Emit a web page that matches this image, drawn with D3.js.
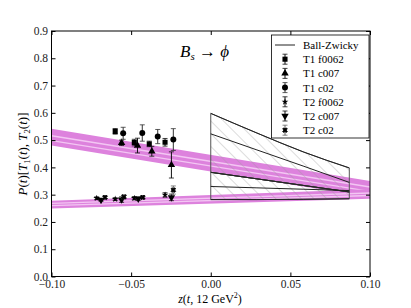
<!DOCTYPE html>
<html>
<head>
<meta charset="utf-8">
<script src="https://cdn.jsdelivr.net/npm/d3@7"></script>
<style>
  body { margin: 0; background: #fff; }
  svg { display: block; font-family: "Liberation Serif", "DejaVu Serif", serif; }
</style>
</head>
<body>
<div id="chart"></div>
<script>
// series of lattice points: [z, value, error]
const t1f0062 = [[-0.060, 0.532, 0.010], [-0.048, 0.491, 0.012], [-0.0386, 0.486, 0.010], [-0.0287, 0.492, 0.014]];
const t1c007  = [[-0.056, 0.490, 0.010], [-0.046, 0.480, 0.027], [-0.037, 0.459, 0.018], [-0.0247, 0.409, 0.048]];
const t1c02   = [[-0.055, 0.525, 0.022], [-0.043, 0.526, 0.030], [-0.0333, 0.513, 0.026], [-0.0235, 0.502, 0.040]];
const t2f0062 = [[-0.0716, 0.287, 0.005], [-0.060, 0.284, 0.005], [-0.048, 0.287, 0.006], [-0.0287, 0.299, 0.008]];
const t2c007  = [[-0.0689, 0.281, 0.005], [-0.056, 0.282, 0.010], [-0.0455, 0.285, 0.006], [-0.0247, 0.290, 0.012]];
const t2c02   = [[-0.0664, 0.290, 0.005], [-0.0545, 0.292, 0.007], [-0.0427, 0.290, 0.006], [-0.0235, 0.317, 0.015]];

const seriesNames = ["T1 f0062", "T1 c007", "T1 c02", "T2 f0062", "T2 c007", "T2 c02"];

// fit bands (linear in z), values at z = -0.10 and z = 0.10
const bandZ = [-0.10, 0.10];
const t1BandLo = [0.480, 0.290];
const t1BandHi = [0.542, 0.350];
const t1BandMid = [[0.498, 0.312], [0.516, 0.328]];
const t2BandLo = [0.249, 0.285];
const t2BandHi = [0.278, 0.320];
const t2BandMid = [[0.260, 0.297], [0.268, 0.306]];

// Ball-Zwicky curves
const bzZ = [0, 0.029, 0.058, 0.087];
const bzT1Hi = [0.598, 0.526, 0.457, 0.398];
const bzT1Mid = [0.523, 0.464, 0.405, 0.345];
const bzT1Lo = [0.382, 0.358, 0.334, 0.310];
const bzT2Hi = [0.382, 0.358, 0.334, 0.310];
const bzT2Mid = [0.330, 0.325, 0.320, 0.315];
const bzT2Lo = [0.282, 0.282, 0.283, 0.285];

const xTicks = [-0.10, -0.05, 0.00, 0.05, 0.10];
const yTicks = [0.0, 0.1, 0.2, 0.3, 0.4, 0.5, 0.6, 0.7, 0.8, 0.9];

const width = 411, height = 308;
const mLeft = 51.5, mRight = 370, mTop = 31, mBottom = 276.5;

const x = d3.scaleLinear([-0.10, 0.10], [mLeft, mRight]);
const y = d3.scaleLinear([0, 0.9], [mBottom, mTop]);

const svg = d3.select("#chart").append("svg")
    .attr("width", width)
    .attr("height", height);

const defs = svg.append("defs");
defs.append("clipPath").attr("id", "clip")
  .append("rect").attr("x", mLeft).attr("y", mTop).attr("width", mRight - mLeft).attr("height", mBottom - mTop);
defs.append("pattern")
    .attr("id", "hatch")
    .attr("patternUnits", "userSpaceOnUse")
    .attr("width", 9).attr("height", 9)
    .attr("patternTransform", "rotate(-45)")
  .append("line")
    .attr("x1", 0).attr("y1", 0).attr("x2", 0).attr("y2", 9)
    .attr("stroke", "#999").attr("stroke-width", 0.7);

const plot = svg.append("g").attr("clip-path", "url(#clip)");

// magenta fit bands
function band(lo, hi, mids) {
  const pts = bandZ.map((z, i) => ({z, lo: lo[i], hi: hi[i]}));
  plot.append("path")
      .attr("d", d3.area().x(d => x(d.z)).y0(d => y(d.lo)).y1(d => y(d.hi))(pts))
      .attr("fill", "#dd82dd");
  mids.forEach(m => {
    plot.append("path")
        .attr("d", d3.line().x(d => x(d[0])).y(d => y(d[1]))(bandZ.map((z, i) => [z, m[i]])))
        .attr("fill", "none")
        .attr("stroke", "#f3c6f3")
        .attr("stroke-width", 1.4);
  });
}
band(t1BandLo, t1BandHi, t1BandMid);
band(t2BandLo, t2BandHi, t2BandMid);

// Ball-Zwicky hatched regions
const bzLine = d3.line().x(d => x(d[0])).y(d => y(d[1])).curve(d3.curveMonotoneX);
function bzRegion(hi, mid, lo) {
  const pts = bzZ.map((z, i) => ({z, lo: lo[i], hi: hi[i]}));
  plot.append("path")
      .attr("d", d3.area().x(d => x(d.z)).y0(d => y(d.lo)).y1(d => y(d.hi)).curve(d3.curveMonotoneX)(pts))
      .attr("fill", "url(#hatch)")
      .attr("stroke", "#555")
      .attr("stroke-width", 1);
  [hi, mid, lo].forEach(arr => {
    plot.append("path")
        .attr("d", bzLine(bzZ.map((z, i) => [z, arr[i]])))
        .attr("fill", "none")
        .attr("stroke", "#222")
        .attr("stroke-width", 1);
  });
}
bzRegion(bzT1Hi, bzT1Mid, bzT1Lo);
bzRegion(bzT2Hi, bzT2Mid, bzT2Lo);

// markers
const markers = {
  "T1 f0062": d3.symbol(d3.symbolSquare, 26),
  "T1 c007": d3.symbol(d3.symbolTriangle, 24),
  "T1 c02": d3.symbol(d3.symbolCircle, 28),
  "T2 f0062": d3.symbol(d3.symbolStar, 14),
  "T2 c007": d3.symbol(d3.symbolTriangle, 24),
  "T2 c02": d3.symbol(d3.symbolCross, 14)
};
const rotations = {"T2 c007": 180, "T2 c02": 45};
const errColor = {"T2 c02": "#666", "T1 c02": "#333"};

function drawPoint(g, name, px, py, pyLo, pyHi) {
  const ec = errColor[name] || "#111";
  g.append("line").attr("x1", px).attr("x2", px).attr("y1", pyLo).attr("y2", pyHi)
      .attr("stroke", ec).attr("stroke-width", 1);
  [pyLo, pyHi].forEach(cy => g.append("line")
      .attr("x1", px - 2.5).attr("x2", px + 2.5).attr("y1", cy).attr("y2", cy)
      .attr("stroke", ec).attr("stroke-width", 0.8));
  g.append("path")
      .attr("d", markers[name]())
      .attr("transform", `translate(${px},${py}) rotate(${rotations[name] || 0})`)
      .attr("fill", "#000")
      .attr("stroke", name === "T2 c02" ? "#000" : "none")
      .attr("stroke-width", 0.8);
}

const allSeries = [t1f0062, t1c007, t1c02, t2f0062, t2c007, t2c02];
const pts = plot.append("g");
allSeries.forEach((s, i) => {
  s.forEach(([z, v, e]) => drawPoint(pts, seriesNames[i], x(z), y(v), y(v - e), y(v + e)));
});

// frame
svg.append("rect")
    .attr("x", mLeft).attr("y", mTop).attr("width", mRight - mLeft).attr("height", mBottom - mTop)
    .attr("fill", "none").attr("stroke", "#000").attr("stroke-width", 1);

// axes (ticks inside, on all sides)
const fmt = d => d3.format(".2f")(d).replace("-", "\u2212");
svg.append("g").attr("transform", `translate(0,${mBottom})`)
    .call(d3.axisBottom(x).tickValues(xTicks).tickSizeInner(-4).tickSizeOuter(0).tickPadding(3).tickFormat(fmt))
    .call(g => g.select(".domain").remove());
svg.append("g").attr("transform", `translate(0,${mTop})`)
    .call(d3.axisTop(x).tickValues(xTicks).tickSizeInner(-4).tickSizeOuter(0).tickFormat(""))
    .call(g => g.select(".domain").remove());
svg.append("g").attr("transform", `translate(${mLeft},0)`)
    .call(d3.axisLeft(y).tickValues(yTicks).tickSizeInner(-4).tickSizeOuter(0).tickPadding(3.5).tickFormat(d3.format(".1f")))
    .call(g => g.select(".domain").remove());
svg.append("g").attr("transform", `translate(${mRight},0)`)
    .call(d3.axisRight(y).tickValues(yTicks).tickSizeInner(-4).tickSizeOuter(0).tickFormat(""))
    .call(g => g.select(".domain").remove());
svg.selectAll(".tick text")
    .attr("font-family", "Liberation Serif, DejaVu Serif, serif")
    .attr("font-size", 11.5)
    .attr("fill", "#222");
svg.selectAll(".tick line").attr("stroke", "#000");

// title
const title = svg.append("text").attr("x", 180).attr("y", 57).attr("font-size", 17);
title.append("tspan").attr("font-style", "italic").text("B");
title.append("tspan").attr("font-style", "italic").attr("font-size", 11).attr("dy", 3).text("s");
title.append("tspan").attr("dy", -3).text(" \u2192 ");
title.append("tspan").attr("font-style", "italic").text("\u03d5");

// axis labels
const xl = svg.append("text").attr("x", 210).attr("y", 303).attr("text-anchor", "middle").attr("font-size", 12);
xl.append("tspan").attr("font-style", "italic").text("z");
xl.append("tspan").text("(");
xl.append("tspan").attr("font-style", "italic").text("t");
xl.append("tspan").text(", 12 GeV");
xl.append("tspan").attr("font-size", 8).attr("dy", -5).text("2");
xl.append("tspan").attr("dy", 5).text(")");

const yl = svg.append("text")
    .attr("transform", "translate(27,154) rotate(-90)")
    .attr("text-anchor", "middle").attr("font-size", 13);
yl.append("tspan").attr("font-style", "italic").text("P");
yl.append("tspan").text("(");
yl.append("tspan").attr("font-style", "italic").text("t");
yl.append("tspan").text(")[");
yl.append("tspan").attr("font-style", "italic").text("T");
yl.append("tspan").attr("font-size", 8.5).attr("dy", 3).text("1");
yl.append("tspan").attr("dy", -3).text("(");
yl.append("tspan").attr("font-style", "italic").text("t");
yl.append("tspan").text("), ");
yl.append("tspan").attr("font-style", "italic").text("T");
yl.append("tspan").attr("font-size", 8.5).attr("dy", 3).text("2");
yl.append("tspan").attr("dy", -3).text("(");
yl.append("tspan").attr("font-style", "italic").text("t");
yl.append("tspan").text(")]");

// legend
const lg = svg.append("g");
lg.append("rect").attr("x", 271.5).attr("y", 35).attr("width", 97.5).attr("height", 103)
    .attr("fill", "#fff").attr("stroke", "#000").attr("stroke-width", 0.8);
const rowY = i => 45 + i * 14.2;
lg.append("line").attr("x1", 275).attr("x2", 295).attr("y1", rowY(0)).attr("y2", rowY(0))
    .attr("stroke", "#222").attr("stroke-width", 1);
lg.append("text").attr("x", 303).attr("y", rowY(0) + 4).attr("font-size", 11).text("Ball-Zwicky");
seriesNames.forEach((name, i) => {
  const cy = rowY(i + 1);
  drawPoint(lg, name, 285, cy, cy + 5, cy - 5);
  lg.append("text").attr("x", 303).attr("y", cy + 4).attr("font-size", 11).text(name);
});
</script>
</body>
</html>
